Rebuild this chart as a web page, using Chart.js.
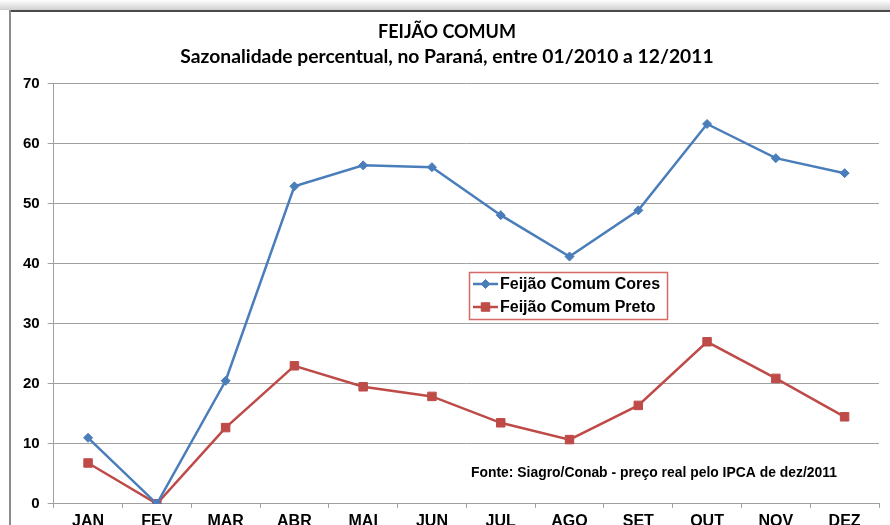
<!DOCTYPE html>
<html lang="pt-br">
<head>
<meta charset="UTF-8">
<title>Feijão Comum - Sazonalidade</title>
<script src="https://cdn.jsdelivr.net/npm/chart.js"></script>
<style>
  html, body { margin: 0; padding: 0; background: #fff; overflow: hidden; }
</style>
</head>
<body>
<canvas id="grafico" width="890" height="536"></canvas>
<script>
// dados
var meses = ["JAN", "FEV", "MAR", "ABR", "MAI", "JUN", "JUL", "AGO", "SET", "OUT", "NOV", "DEZ"];
var cores = [11.0, 0, 20.5, 52.9, 56.4, 56.1, 48.1, 41.2, 48.9, 63.3, 57.6, 55.1];
var preto = [6.8, 0, 12.7, 23.0, 19.5, 17.9, 13.5, 10.7, 16.4, 27.0, 20.9, 14.5];
var eixoY = { min: 0, max: 70, passo: 10 };
var titulo = "FEIJÃO COMUM";
var subtitulo = "Sazonalidade percentual, no Paraná, entre 01/2010 a 12/2011";
var fonte = "Fonte: Siagro/Conab - preço real pelo IPCA de dez/2011";

var AZUL = "#4a7ebb";
var VERMELHO = "#be4b48";
var CINZA = "#a0a0a0";

// moldura de fundo (sombra no topo e borda)
var moldura = {
  id: "moldura",
  beforeDraw: function (chart) {
    var ctx = chart.ctx;
    ctx.save();
    ctx.fillStyle = "#fff";
    ctx.fillRect(0, 0, chart.width, chart.height);
    var g = ctx.createLinearGradient(0, 0, 0, 10);
    g.addColorStop(0, "#ffffff");
    g.addColorStop(1, "#d0d0d0");
    ctx.fillStyle = g;
    ctx.fillRect(0, 0, chart.width, 10);
    ctx.fillStyle = "#4a4a4a";
    ctx.fillRect(9, 10, chart.width - 9, 2);
    ctx.fillStyle = "#8c8c8c";
    ctx.fillRect(9, 10, 2, chart.height);
    ctx.restore();
  }
};

// legenda dentro da area do grafico + texto da fonte
var legenda = {
  id: "legenda",
  afterDraw: function (chart) {
    var ctx = chart.ctx;
    var x = 469, y = 272, w = 198, h = 47;
    ctx.save();
    ctx.fillStyle = "#fff";
    ctx.fillRect(x, y, w, h);
    ctx.strokeStyle = "#d46a66";
    ctx.lineWidth = 1.5;
    ctx.strokeRect(x + 0.5, y + 0.5, w, h);
    chart.data.datasets.forEach(function (ds, i) {
      var cy = y + 12 + i * 23;
      ctx.strokeStyle = ds.borderColor;
      ctx.lineWidth = ds.borderWidth;
      ctx.beginPath();
      ctx.moveTo(x + 4, cy);
      ctx.lineTo(x + 29, cy);
      ctx.stroke();
      ctx.fillStyle = ds.backgroundColor;
      ctx.lineWidth = 1;
      Chart.helpers.drawPoint(ctx, { pointStyle: ds.pointStyle, radius: ds.pointRadius, borderWidth: 1, rotation: 0 }, x + 16.5, cy);
      ctx.fillStyle = "#000";
      ctx.font = "bold 16px 'Liberation Sans', Arial, sans-serif";
      ctx.textBaseline = "middle";
      ctx.textAlign = "left";
      ctx.fillText(ds.label, x + 31, cy + 1);
    });
    ctx.font = "bold 13.9px 'Liberation Sans', Arial, sans-serif";
    ctx.fillStyle = "#000";
    ctx.textBaseline = "middle";
    ctx.fillText(fonte, 471, 473);
    ctx.restore();
  }
};

var ctx = document.getElementById("grafico").getContext("2d");
new Chart(ctx, {
  type: "line",
  data: {
    labels: meses,
    datasets: [
      {
        label: "Feijão Comum Cores",
        data: cores,
        borderColor: AZUL,
        backgroundColor: AZUL,
        borderWidth: 2.5,
        pointStyle: "rectRot",
        pointRadius: 4.5,
        pointBorderWidth: 1,
        tension: 0
      },
      {
        label: "Feijão Comum Preto",
        data: preto,
        borderColor: VERMELHO,
        backgroundColor: VERMELHO,
        borderWidth: 2.5,
        pointStyle: "rect",
        pointRadius: 6,
        pointBorderWidth: 1,
        tension: 0
      }
    ]
  },
  options: {
    responsive: false,
    animation: false,
    layout: { padding: { left: 15, right: 11, top: 12, bottom: 1 } },
    plugins: {
      legend: { display: false },
      tooltip: { enabled: false },
      title: {
        display: true,
        text: titulo,
        color: "#000",
        font: { family: "Lato, 'Open Sans', sans-serif", size: 18, weight: "bold" },
        padding: { top: 9, bottom: 3 }
      },
      subtitle: {
        display: true,
        text: subtitulo,
        color: "#000",
        font: { family: "Lato, 'Open Sans', sans-serif", size: 19.3, weight: "bold" },
        padding: { top: 0, bottom: 15 }
      }
    },
    scales: {
      x: {
        offset: true,
        grid: { display: true, drawOnChartArea: false, offset: true, tickLength: 4, color: CINZA },
        border: { color: CINZA },
        ticks: {
          color: "#000",
          padding: 4,
          font: { family: "'Liberation Sans', Arial, sans-serif", size: 16, weight: "bold" }
        }
      },
      y: {
        min: eixoY.min,
        max: eixoY.max,
        grid: { color: CINZA, tickLength: 6 },
        border: { color: CINZA },
        ticks: {
          stepSize: eixoY.passo,
          color: "#000",
          padding: 8,
          font: { family: "'Liberation Sans', Arial, sans-serif", size: 15, weight: "bold" }
        }
      }
    }
  },
  plugins: [moldura, legenda]
});
</script>
</body>
</html>
